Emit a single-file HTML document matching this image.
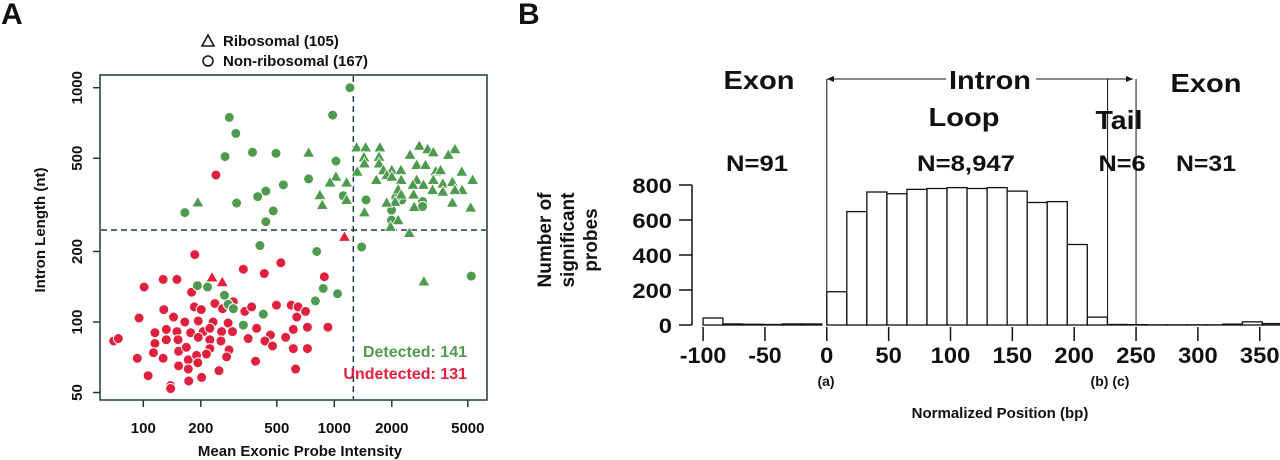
<!DOCTYPE html>
<html><head><meta charset="utf-8"><style>
html,body{margin:0;padding:0;background:#fff;}
svg{display:block;}
text{font-family:"Liberation Sans",Arial,sans-serif;font-weight:bold;}
.n{font-family:"Liberation Sans",sans-serif;font-weight:bold;}
</style></head><body>
<svg id="fig" width="1280" height="460" viewBox="0 0 1280 460" xmlns="http://www.w3.org/2000/svg">
<g id="pa">
<text x="1" y="24" font-size="30" fill="#111">A</text>
<polygon points="202,46 208,35 214,46" fill="none" stroke="#111" stroke-width="1.5"/>
<text x="223" y="46" font-size="15" fill="#111">Ribosomal (105)</text>
<circle cx="208" cy="61" r="5" fill="none" stroke="#111" stroke-width="1.5"/>
<text x="223" y="66" font-size="15" fill="#111">Non-ribosomal (167)</text>
<rect x="100" y="75" width="387" height="325" fill="none" stroke="#1f3a3a" stroke-width="1.5"/>
<g id="pa-ticks"></g>
<g id="pa-points"></g>
<text x="45" y="230" font-size="15" fill="#111" text-anchor="middle" transform="rotate(-90 45 230)">Intron Length (nt)</text>
<text x="300" y="456" font-size="15" fill="#111" text-anchor="middle">Mean Exonic Probe Intensity</text>
<text x="467" y="357" font-size="16" fill="#4e9a4e" text-anchor="end">Detected: 141</text>
<text x="467" y="379" font-size="16" fill="#e0203c" text-anchor="end">Undetected: 131</text>
</g>
<g id="pb">
<text x="518" y="24" font-size="30" fill="#111">B</text>
<text class="n" x="759" y="89" font-size="26" fill="#111" text-anchor="middle" textLength="71" lengthAdjust="spacingAndGlyphs">Exon</text>
<text class="n" x="990" y="89" font-size="26" fill="#111" text-anchor="middle" textLength="82" lengthAdjust="spacingAndGlyphs">Intron</text>
<text class="n" x="1206" y="92" font-size="26" fill="#111" text-anchor="middle" textLength="71" lengthAdjust="spacingAndGlyphs">Exon</text>
<text class="n" x="964" y="126" font-size="26" fill="#111" text-anchor="middle" textLength="71" lengthAdjust="spacingAndGlyphs">Loop</text>
<text class="n" x="1119" y="129" font-size="26" fill="#111" text-anchor="middle" textLength="47" lengthAdjust="spacingAndGlyphs">Tail</text>
<text class="n" x="757" y="171" font-size="22" fill="#111" text-anchor="middle" textLength="62" lengthAdjust="spacingAndGlyphs">N=91</text>
<text class="n" x="966" y="171" font-size="22" fill="#111" text-anchor="middle" textLength="98" lengthAdjust="spacingAndGlyphs">N=8,947</text>
<text class="n" x="1122" y="171" font-size="22" fill="#111" text-anchor="middle" textLength="47" lengthAdjust="spacingAndGlyphs">N=6</text>
<text class="n" x="1206" y="171" font-size="22" fill="#111" text-anchor="middle" textLength="60" lengthAdjust="spacingAndGlyphs">N=31</text>
<line x1="827" y1="79" x2="946" y2="79" stroke="#111" stroke-width="1"/>
<polygon points="827,79 834,76 834,82" fill="#111"/>
<line x1="1036" y1="79" x2="1133" y2="79" stroke="#111" stroke-width="1"/>
<polygon points="1133,79 1126,76 1126,82" fill="#111"/>
<g id="pb-bars"></g>
<g id="pb-axes"></g>
<text x="826" y="386" font-size="14" fill="#111" text-anchor="middle">(a)</text>
<text x="1110" y="386" font-size="14" fill="#111" text-anchor="middle">(b) (c)</text>
<text x="1000" y="418" font-size="15" fill="#111" text-anchor="middle">Normalized Position (bp)</text>
<g transform="rotate(-90 566 240)">
<text x="566" y="225" font-size="19" fill="#111" text-anchor="middle">Number of</text>
<text x="566" y="248" font-size="19" fill="#111" text-anchor="middle">significant</text>
<text x="566" y="271" font-size="19" fill="#111" text-anchor="middle">probes</text>
</g>
</g>
</svg>
<script>
var NS="http://www.w3.org/2000/svg";
// Panel A data
var greenCircX=[1208,282,305,268,373,495,980,1020,734,541,438,397,308,165,479,438,408,809,1114,1466,1390,5212,192,217,266,278,296,425,334,796,875,1040,2254,2897,1995,1995,2897,2100];
var greenCircY=[1000,747,638,508,530,525,764,486,408,385,362,343,322,293,298,268,212,200,346,332,209,157,143,141,130,119,114,108,97,123,139,132,332,327,300,272,311,340];
var greenTriX=[2786,1309,1459,1733,3081,3299,4283,3954,4647,5299,5174,734,2489,1430,1437,1716,1716,1807,2000,2233,2699,3000,3400,3600,1318,1160,1020,950,1660,1885,2000,2240,2700,3300,3700,4150,4670,4283,3270,2930,2580,2160,2240,2600,2080,1880,2620,4150,3700,841,865,1160,1437,2160,1970,2470,2944,193];
var greenTriY=[565,556,556,556,547,530,547,517,438,404,308,528,517,505,475,507,475,445,445,445,468,468,440,445,438,394,417,394,404,424,417,404,404,404,390,396,366,366,366,385,385,368,350,350,326,323,310,323,360,348,316,332,294,272,255,240,149,324];
var redCircX=[240,186,334,430,525,887,101,127,150,179,128,144,185,201,237,260,296,340,369,498,595,646,707,636,95,165,194,232,278,115,132,150,177,206,223,257,293,392,463,610,723,926,70,74,115,132,152,194,223,255,354,433,475,556,610,723,113,153,168,223,281,93,127,172,190,214,273,387,153,172,193,249,627,106,202,173,139,139];
var redCircY=[424,194,168,161,179,156,141,152,152,134,113,105,116,113,120,114,122,111,116,118,118,116,111,105,104,100,101,100,99,90,93,91,90,91,94,91,91,94,88,93,95,95,83,85,81,84,84,86,84,83,85,83,79,86,77,77,74,75,78,77,76,70,70,69,72,73,71,68,65,63,67,62,63,59,58,56,53.5,52];
var redTriX=[229,259,1130];
var redTriY=[155,148,231];
var aXTicks=[100,200,500,1000,2000,5000];
var aYTicks=[50,100,200,500,1000];
var thrX=1258, thrY=247;
// Panel B data
var binStart=[-100,-84,-68,-52,-36,-20,0,16.2,32.4,48.6,64.8,81,97.2,113.4,129.6,145.8,162,178.2,194.4,210.6,227,243,259,275,291,307,320,336,352];
var binEnd=[-84,-68,-52,-36,-20,-4,16.2,32.4,48.6,64.8,81,97.2,113.4,129.6,145.8,162,178.2,194.4,210.6,226.8,243,259,275,291,307,320,336,352,368];
var binCount=[40,6,4,3,6,6,190,648,760,750,775,780,785,780,785,765,700,705,460,45,3,2,1,1,1,1,5,18,8];
var bXTicks=[-100,-50,0,50,100,150,200,250,300,350];
var bYTicks=[0,200,400,600,800];
var boundaries=[0,227,250];

function xA(v){return 143.3+(Math.log10(v)-2)*191;}
function yA(v){return 322-(Math.log10(v)-2)*234.3;}
function xB(v){return 826.8+v*1.237;}
function yB(v){return 325-v*140/800;}
function mk(tag,attrs,parent){var e=document.createElementNS(NS,tag);for(var k in attrs)e.setAttribute(k,attrs[k]);parent.appendChild(e);return e;}
function narrowLen(s){var w=0;for(var i=0;i<s.length;i++){w+=(s[i]==='-')?7:13.2;}return w;}

var tk=document.getElementById('pa-ticks');
aXTicks.forEach(function(v){
  var l=mk('line',{x1:xA(v),x2:xA(v),y1:400,y2:407,stroke:'#1f3a3a','stroke-width':1.5},tk);
  
  
  var t=mk('text',{x:xA(v),y:433,'font-size':15,'text-anchor':'middle',fill:'#111'},tk);
  t.textContent=v;
  
  
});
aYTicks.forEach(function(v){
  var l=mk('line',{x1:93,x2:100,y1:yA(v),y2:yA(v),stroke:'#1f3a3a','stroke-width':1.5},tk);
  
  
  var t=mk('text',{x:82,y:yA(v),'font-size':15,'text-anchor':'middle',fill:'#111',transform:'rotate(-90 82 '+yA(v)+')'},tk);
  t.textContent=v;
  
  
});
var dv=mk('line',{x1:xA(thrX),x2:xA(thrX),y1:76,y2:399,stroke:'#1f3a4a','stroke-width':1.5,'stroke-dasharray':'6,4'},tk);


var dh=mk('line',{x1:101,x2:486,y1:yA(thrY),y2:yA(thrY),stroke:'#1f3a4a','stroke-width':1.5,'stroke-dasharray':'6,4'},tk);



var pg=document.getElementById('pa-points');
var G='#4e9a4e',R='#e0203c';
function circ(xs,ys,c,nm){xs.forEach(function(x,i){
  var e=mk('circle',{cx:xA(x),cy:yA(ys[i]),r:5,fill:c,stroke:'#fff','stroke-width':1},pg);
  
  
});}
function tri(xs,ys,c,nm){xs.forEach(function(x,i){
  var cx=xA(x),cy=yA(ys[i]);
  var e=mk('polygon',{points:(cx-6)+','+(cy+4.5)+' '+cx+','+(cy-6)+' '+(cx+6)+','+(cy+4.5),fill:c,stroke:'#fff','stroke-width':0.8},pg);
  
  
});}
circ(redCircX,redCircY,R,'undetected-nonribosomal-point');
tri(redTriX,redTriY,R,'undetected-ribosomal-point');
circ(greenCircX,greenCircY,G,'detected-nonribosomal-point');
tri(greenTriX,greenTriY,G,'detected-ribosomal-point');

var bb=document.getElementById('pb-bars');
binStart.forEach(function(s,i){
  var x0=xB(s),x1=Math.min(xB(binEnd[i]),1280);
  var e=mk('rect',{x:x0,y:yB(binCount[i]),width:x1-x0,height:yB(0)-yB(binCount[i]),fill:'#fff',stroke:'#111','stroke-width':1.3},bb);
  
  
});
var ba=document.getElementById('pb-axes');
boundaries.forEach(function(v,i){
  var e=mk('line',{x1:xB(v),x2:xB(v),y1:79,y2:325,stroke:'#111','stroke-width':1},ba);
  
  
});
var ya=mk('line',{x1:692,x2:692,y1:yB(800),y2:yB(0),stroke:'#111','stroke-width':1.5},ba);


bYTicks.forEach(function(v){
  var l=mk('line',{x1:679,x2:692,y1:yB(v),y2:yB(v),stroke:'#111','stroke-width':1.5},ba);
  
  
  var s=String(v);
  var t=mk('text',{x:672,y:yB(v)+8,'font-size':21,'text-anchor':'end',fill:'#111','class':'n',textLength:narrowLen(s),lengthAdjust:'spacingAndGlyphs'},ba);
  t.textContent=s;
  
  
});
bXTicks.forEach(function(v){
  var l=mk('line',{x1:xB(v),x2:xB(v),y1:327,y2:341,stroke:'#111','stroke-width':1.5},ba);
  
  
  var s=String(v);
  var t=mk('text',{x:xB(v),y:363,'font-size':22,'text-anchor':'middle',fill:'#111','class':'n',textLength:narrowLen(s),lengthAdjust:'spacingAndGlyphs'},ba);
  t.textContent=s;
  
  
});
</script>
</body></html>
